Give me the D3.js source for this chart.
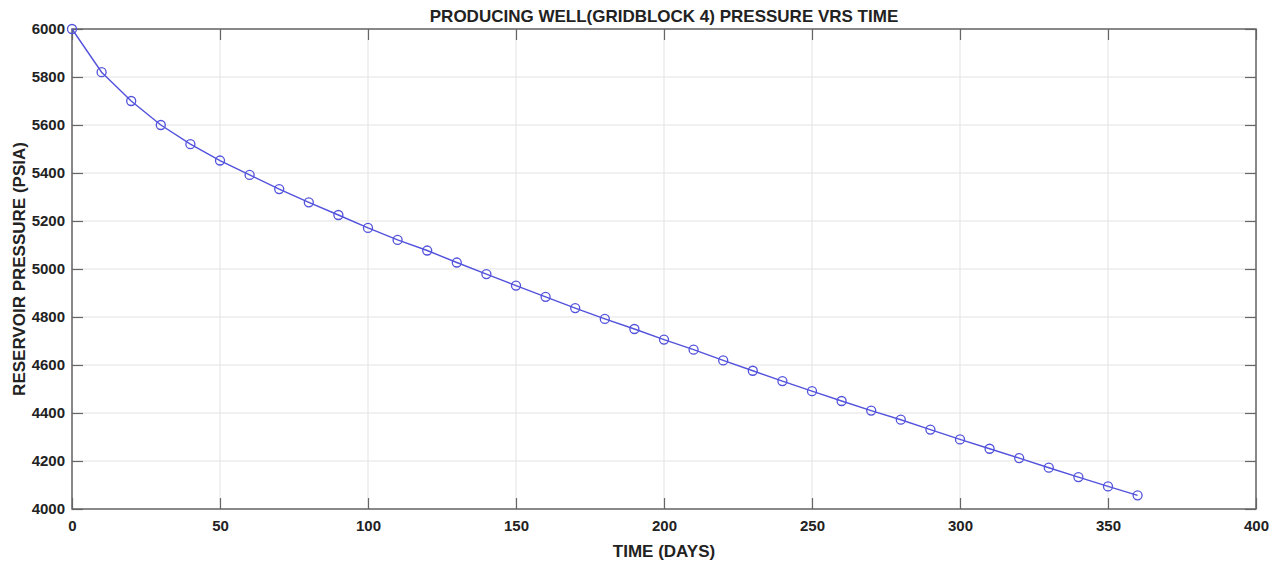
<!DOCTYPE html>
<html>
<head>
<meta charset="utf-8">
<script src="https://cdn.jsdelivr.net/npm/d3@7"></script>
<style>
  body { margin: 0; background: #fff; }
  svg { display: block; font-family: "Liberation Sans", Arial, sans-serif; }
</style>
</head>
<body>
<div id="chart"></div>
<script>
const width = 1280;
const height = 563;
const marginTop = 29;
const marginRight = 24;
const marginBottom = 54;
const marginLeft = 72;

// time in days, pressure in psia
const timeDays = [0, 10, 20, 30, 40, 50, 60, 70, 80, 90, 100, 110, 120, 130, 140, 150, 160, 170, 180,
    190, 200, 210, 220, 230, 240, 250, 260, 270, 280, 290, 300, 310, 320, 330, 340, 350, 360];
const pressure = [6000, 5820, 5700, 5600, 5520, 5452, 5392, 5333, 5278, 5225, 5171, 5121, 5077, 5027,
    4979, 4931, 4884, 4837, 4792, 4750, 4706, 4664, 4619, 4576, 4533, 4491, 4450, 4410, 4372, 4331,
    4290, 4251, 4212, 4172, 4133, 4094, 4057];
const xTicks = [0, 50, 100, 150, 200, 250, 300, 350, 400];
const yTicks = [4000, 4200, 4400, 4600, 4800, 5000, 5200, 5400, 5600, 5800, 6000];

const data = timeDays.map((t, i) => ({ t: t, p: pressure[i] }));

const svg = d3.select("#chart")
    .append("svg")
    .attr("width", width)
    .attr("height", height)
    .attr("viewBox", [0, 0, width, height]);

const x = d3.scaleLinear()
    .domain([0, 400])
    .range([marginLeft, width - marginRight]);

const y = d3.scaleLinear()
    .domain([4000, 6000])
    .range([height - marginBottom, marginTop]);

// grid
svg.append("g")
    .attr("stroke", "#e3e3e3")
    .attr("stroke-width", 1)
    .call(g => g.selectAll(".gx").data(xTicks).join("line")
        .attr("x1", d => x(d)).attr("x2", d => x(d))
        .attr("y1", marginTop).attr("y2", height - marginBottom))
    .call(g => g.selectAll(".gy").data(yTicks).join("line")
        .attr("x1", marginLeft).attr("x2", width - marginRight)
        .attr("y1", d => y(d)).attr("y2", d => y(d)));

// axes, ticks pointing inward like matlab
const axisColor = "#666";
const styleAxis = g => {
    g.select(".domain").remove();
    g.selectAll(".tick line").attr("stroke", axisColor).attr("stroke-width", 1.2);
    g.selectAll(".tick text")
        .attr("fill", "#222")
        .attr("font-size", 15)
        .attr("font-weight", "bold");
};

svg.append("g")
    .attr("transform", `translate(0,${height - marginBottom})`)
    .call(d3.axisBottom(x).tickValues(xTicks).tickSize(-11).tickPadding(11).tickFormat(d3.format("d")))
    .call(styleAxis);

svg.append("g")
    .attr("transform", `translate(0,${marginTop})`)
    .call(d3.axisTop(x).tickValues(xTicks).tickSize(-11).tickFormat(""))
    .call(styleAxis);

svg.append("g")
    .attr("transform", `translate(${marginLeft},0)`)
    .call(d3.axisLeft(y).tickValues(yTicks).tickSize(-11).tickPadding(7).tickFormat(d3.format("d")))
    .call(styleAxis);

svg.append("g")
    .attr("transform", `translate(${width - marginRight},0)`)
    .call(d3.axisRight(y).tickValues(yTicks).tickSize(-11).tickFormat(""))
    .call(styleAxis);

// box
svg.append("rect")
    .attr("x", marginLeft)
    .attr("y", marginTop)
    .attr("width", width - marginLeft - marginRight)
    .attr("height", height - marginTop - marginBottom)
    .attr("fill", "none")
    .attr("stroke", axisColor)
    .attr("stroke-width", 1.5);

// series
const lineColor = "#5252dc";
svg.append("path")
    .datum(data)
    .attr("fill", "none")
    .attr("stroke", lineColor)
    .attr("stroke-width", 1.4)
    .attr("d", d3.line().x(d => x(d.t)).y(d => y(d.p)));

svg.append("g")
    .selectAll("circle")
    .data(data)
    .join("circle")
    .attr("cx", d => x(d.t))
    .attr("cy", d => y(d.p))
    .attr("r", 4.5)
    .attr("fill", "none")
    .attr("stroke", lineColor)
    .attr("stroke-width", 1.3);

// labels
svg.append("text")
    .attr("x", 664)
    .attr("y", 22)
    .attr("text-anchor", "middle")
    .attr("font-size", 17)
    .attr("font-weight", "bold")
    .attr("fill", "#222")
    .text("PRODUCING WELL(GRIDBLOCK 4) PRESSURE VRS TIME");

svg.append("text")
    .attr("x", 664)
    .attr("y", 557)
    .attr("text-anchor", "middle")
    .attr("font-size", 17)
    .attr("font-weight", "bold")
    .attr("fill", "#222")
    .text("TIME (DAYS)");

svg.append("text")
    .attr("transform", `translate(25,${(marginTop + height - marginBottom) / 2}) rotate(-90)`)
    .attr("text-anchor", "middle")
    .attr("font-size", 17)
    .attr("font-weight", "bold")
    .attr("fill", "#222")
    .text("RESERVOIR PRESSURE (PSIA)");
</script>
</body>
</html>
